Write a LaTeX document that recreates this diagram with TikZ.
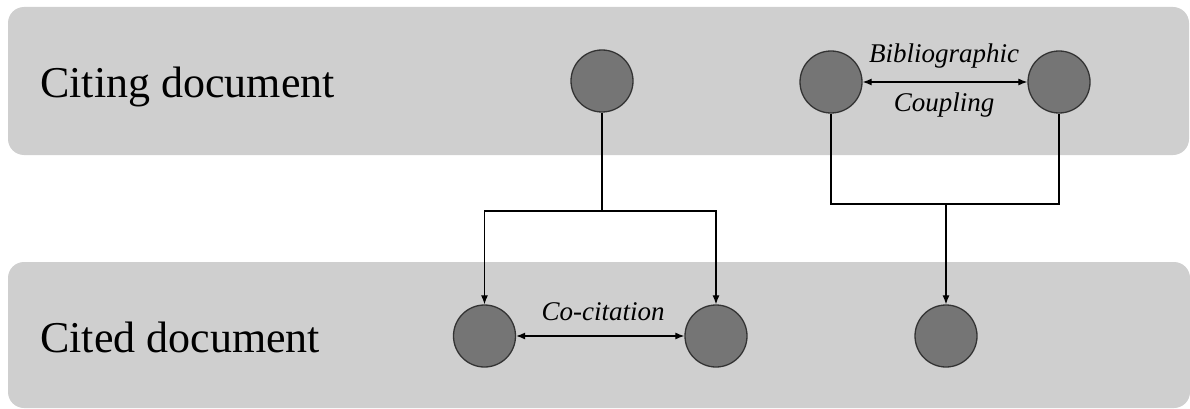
\documentclass[tikz,border=0pt]{standalone}
\usepackage{fontspec}
\setmainfont{Liberation Serif}
\usetikzlibrary{arrows.meta}
\begin{document}
\begin{tikzpicture}[x=1pt,y=-1pt,
  band/.style={fill=bandgray,draw=none,rounded corners=16pt},
  doc/.style={circle,draw=circedge,line width=1.3pt,fill=circfill,minimum size=62pt,inner sep=0pt},
  lbl/.style={font=\fontsize{44}{48}\selectfont,anchor=base west,inner sep=0pt},
  rel/.style={font=\itshape\fontsize{27}{31}\selectfont,anchor=base,inner sep=0pt},
  link/.style={line width=1.2pt,draw=black},
  tip/.style={-{Latex[length=9pt,width=7pt]}},
  dtip/.style={{Latex[length=9pt,width=7pt]}-{Latex[length=9pt,width=7pt]}}
]
\definecolor{bandgray}{HTML}{CFCFCF}
\definecolor{circfill}{HTML}{757575}
\definecolor{circedge}{HTML}{333333}
\useasboundingbox (0,0) rectangle (1190,409);

% layers
\fill[band] (8,7) rectangle (1189,155);
\fill[band] (8,262) rectangle (1190,408);
\node[lbl] (citing) at (40,98) {Citing document};
\node[lbl] (cited) at (40,352) {Cited document};

% documents
\node[doc] (a) at (602,81) {};
\node[doc] (b1) at (831,82) {};
\node[doc] (b2) at (1059,82) {};
\node[doc] (c1) at (484.5,336) {};
\node[doc] (c2) at (716,336) {};
\node[doc] (d) at (946,336) {};

% co-citation: one citing document points to two cited ones
\coordinate (asplit) at (602,211);
\draw[link] (a.south) -- (asplit);
\draw[link,tip] (asplit) -| (c1.north);
\draw[link,tip] (asplit) -| (c2.north);
\draw[link,dtip] (c1.east) -- (c2.west);
\node[rel] (cocit) at (603,320) {Co-citation};

% bibliographic coupling: two citing documents share one reference
\coordinate (bjoin) at (946,204);
\draw[link] (b1.south) |- (bjoin) -| (b2.south);
\draw[link,tip] (bjoin) -- (d.north);
\draw[link,dtip] (b1.east) -- (b2.west);
\node[rel] (bib) at (944,63) {Bibliographic};
\node[rel] (coup) at (944,112) {Coupling};
\end{tikzpicture}
\end{document}
